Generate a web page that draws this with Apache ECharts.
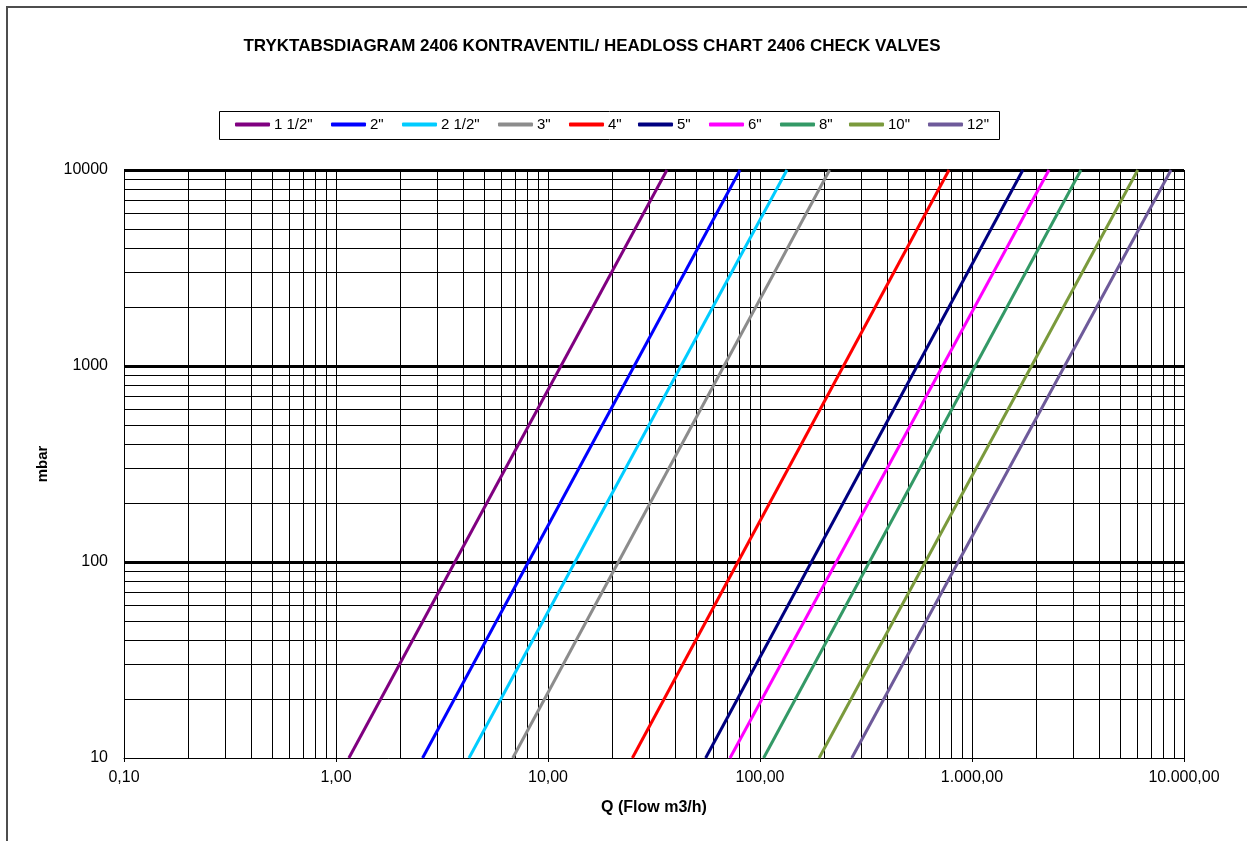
<!DOCTYPE html>
<html>
<head>
<meta charset="utf-8">
<style>html,body{margin:0;padding:0;background:#fff}#chart{width:1247px;height:841px}</style>
<script src="https://cdn.jsdelivr.net/npm/echarts@6/dist/echarts.min.js"></script>
</head>
<body>
<div id="chart"></div>
<script>
// ---- data ----
const valveSizes = ['1 1/2"', '2"', '2 1/2"', '3"', '4"', '5"', '6"', '8"', '10"', '12"'];
const pressureLoss = [10, 10000];                 // mbar at the two ends of each curve
const flowAtLow  = [1.15, 2.56, 4.24, 6.82, 25.0, 55.4, 72.2, 104, 190, 271];        // m3/h at 10 mbar
const flowAtHigh = [36.4, 80.5, 134, 213, 779, 1738, 2307, 3266, 6052, 8686];        // m3/h at 10000 mbar
const xTickLabels = ['0,10', '1,00', '10,00', '100,00', '1.000,00', '10.000,00'];
const yTickLabels = ['10', '100', '1000', '10000'];
const minorSteps = [2, 3, 4, 5, 6, 7, 8, 9];
const xDecades = [0.1, 1, 10, 100, 1000];
const yDecades = [10, 100, 1000];

// ---- styles ----
const colors = ['#800080', '#0000FF', '#00CCFF', '#8C8C8C', '#FF0000', '#000080', '#FF00FF', '#339966', '#7A9A3C', '#6E5A9A'];
const legendLeft = [235, 331, 402, 498, 569, 638, 709, 780, 849, 928];

function hasFont(name) {
  const c = document.createElement('canvas').getContext('2d');
  c.font = '20px monospace';
  const w0 = c.measureText('1 1/2" ABCmw').width;
  c.font = '20px "' + name + '", monospace';
  return c.measureText('1 1/2" ABCmw').width !== w0;
}
const narrow = hasFont('Liberation Sans Narrow');
const legendFont = narrow ? { fontFamily: 'Liberation Sans Narrow', fontSize: 17 } : { fontFamily: 'Liberation Sans', fontSize: 15 };

const minorX = [];
xDecades.forEach(d => minorSteps.forEach(m => minorX.push({ xAxis: +(d * m).toPrecision(6) })));
const minorY = [];
yDecades.forEach(d => minorSteps.forEach(m => minorY.push({ yAxis: +(d * m).toPrecision(6) })));

const series = valveSizes.map((name, i) => ({
  name: name,
  type: 'line',
  data: [[flowAtLow[i], pressureLoss[0]], [flowAtHigh[i], pressureLoss[1]]],
  showSymbol: false,
  symbol: 'none',
  color: colors[i],
  lineStyle: { width: 3, color: colors[i] },
  z: 5,
  animation: false
}));
series.push({
  name: 'grid',
  type: 'line',
  data: [[1, 100]],
  symbol: 'none',
  lineStyle: { opacity: 0 },
  silent: true,
  z: 1,
  animation: false,
  markLine: {
    silent: true,
    symbol: ['none', 'none'],
    label: { show: false },
    lineStyle: { color: '#000', width: 1, type: 'solid' },
    emphasis: { disabled: true },
    animation: false,
    data: minorX.concat(minorY)
  }
});

const legends = valveSizes.map((name, i) => ({
  data: [name],
  left: legendLeft[i],
  top: 117,
  padding: 0,
  icon: 'roundRect',
  itemWidth: 35,
  itemHeight: 4,
  itemGap: 0,
  selectedMode: false,
  textStyle: Object.assign({ color: '#000', padding: [0, 0, 0, -1] }, legendFont)
}));

const chart = echarts.init(document.getElementById('chart'), null, { renderer: 'canvas' });
chart.setOption({
  backgroundColor: '#fff',
  animation: false,
  title: {
    text: 'TRYKTABSDIAGRAM 2406 KONTRAVENTIL/ HEADLOSS CHART 2406 CHECK VALVES',
    left: 587,
    top: 33,
    textAlign: 'center',
    textStyle: { fontFamily: 'Liberation Sans', fontSize: 17, fontWeight: 'bold', color: '#000' }
  },
  legend: legends,
  grid: { left: 124, right: 63, top: 170, bottom: 83, containLabel: false },
  xAxis: {
    type: 'log',
    logBase: 10,
    min: 0.1,
    max: 10000,
    name: 'Q (Flow m3/h)',
    nameLocation: 'middle',
    nameGap: 42,
    nameTextStyle: { fontFamily: 'Liberation Sans', fontSize: 16, fontWeight: 'bold', color: '#000' },
    axisLine: { show: true, lineStyle: { color: '#000', width: 1 } },
    axisTick: { show: true, length: 4, lineStyle: { color: '#000' } },
    axisLabel: {
      margin: 12,
      fontFamily: 'Liberation Sans', fontSize: 16, color: '#000',
      showMinLabel: true, showMaxLabel: true,
      formatter: v => xTickLabels[Math.round(Math.log10(v)) + 1]
    },
    splitLine: { show: true, lineStyle: { color: '#000', width: 1 } },
    minorTick: { show: false },
    minorSplitLine: { show: false }
  },
  yAxis: {
    type: 'log',
    logBase: 10,
    min: 10,
    max: 10000,
    name: 'mbar',
    nameLocation: 'middle',
    nameRotate: 90,
    nameGap: 74,
    nameTextStyle: { fontFamily: 'Liberation Sans', fontSize: 15, fontWeight: 'bold', color: '#000' },
    axisLine: { show: true, lineStyle: { color: '#000', width: 1 } },
    axisTick: { show: false },
    axisLabel: {
      margin: 16,
      fontFamily: 'Liberation Sans', fontSize: 16, color: '#000',
      showMinLabel: true, showMaxLabel: true,
      formatter: v => yTickLabels[Math.round(Math.log10(v)) - 1]
    },
    splitLine: { show: true, showMinLine: false, lineStyle: { color: '#000', width: 3 } }
  },
  graphic: [
    { type: 'rect', shape: { x: 7, y: 7, width: 1300, height: 900 }, style: { fill: 'none', stroke: '#4d4d4d', lineWidth: 2 }, silent: true, z: 0 },
    { type: 'rect', shape: { x: 219.5, y: 111.5, width: 780, height: 28 }, style: { fill: 'none', stroke: '#000', lineWidth: 1 }, silent: true, z: 0 }
  ],
  series: series
});
</script>
</body>
</html>
